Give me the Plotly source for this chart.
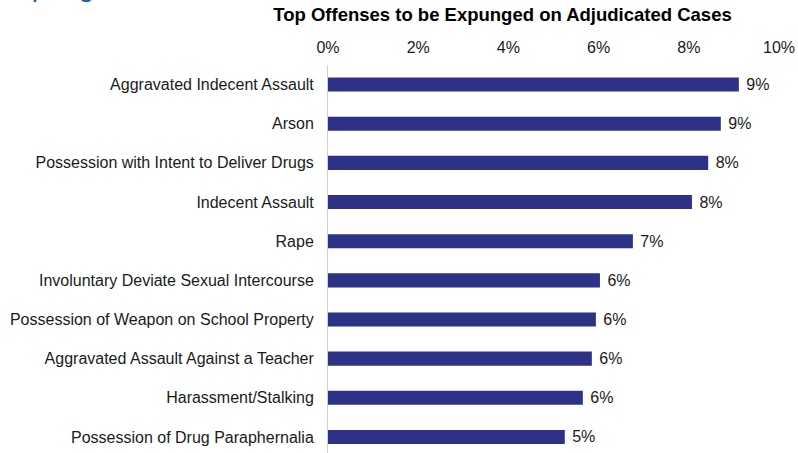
import plotly.graph_objects as go

# Offense categories, listed top to bottom as displayed
offenses = [
    "Aggravated Indecent Assault",
    "Arson",
    "Possession with Intent to Deliver Drugs",
    "Indecent Assault",
    "Rape",
    "Involuntary Deviate Sexual Intercourse",
    "Possession of Weapon on School Property",
    "Aggravated Assault Against a Teacher",
    "Harassment/Stalking",
    "Possession of Drug Paraphernalia",
]
# Share of adjudicated cases to be expunged
shares = [0.0911, 0.0871, 0.0843, 0.0807, 0.0676, 0.0603, 0.0594, 0.0585, 0.0565, 0.0525]

x_ticks = [0, 0.02, 0.04, 0.06, 0.08, 0.10]

FONT = "Liberation Sans, Arial, sans-serif"
BAR_COLOR = "#2E3188"
TEXT_COLOR = "#1a1a1a"

# plot bottom-up so the first offense sits at the top
y_cats = offenses[::-1]
x_vals = shares[::-1]

W, H = 798, 453
M_L, M_R, M_T, M_B = 328, 19, 65, 0
PLOT_W = W - M_L - M_R
PLOT_H = H - M_T - M_B

fig = go.Figure(
    go.Bar(
        x=x_vals,
        y=y_cats,
        orientation="h",
        marker=dict(color=BAR_COLOR, line=dict(width=0)),
        width=0.36,
        texttemplate=" %{x:.0%}",
        textposition="outside",
        constraintext="none",
        textfont=dict(family=FONT, size=16, color=TEXT_COLOR),
        cliponaxis=False,
        hoverinfo="skip",
    )
)

fig.update_layout(
    width=W,
    height=H,
    margin=dict(l=M_L, r=M_R, t=M_T, b=M_B),
    paper_bgcolor="white",
    plot_bgcolor="white",
    showlegend=False,
    font=dict(family=FONT, size=16, color=TEXT_COLOR),
    title=dict(
        text="<b>Top Offenses to be Expunged on Adjudicated Cases</b>",
        font=dict(family=FONT, size=18.5, color="#000000"),
        x=502.5 / W,
        xref="container",
        xanchor="center",
        y=1,
        yref="container",
        yanchor="top",
        pad=dict(t=8),
    ),
    xaxis=dict(
        side="top",
        range=[0, 0.10],
        tickvals=x_ticks,
        tickformat=".0%",
        showgrid=False,
        zeroline=False,
        showline=False,
        ticks="",
        ticklabelstandoff=8,
        tickfont=dict(family=FONT, size=16, color=TEXT_COLOR),
        fixedrange=True,
    ),
    yaxis=dict(
        type="category",
        categoryorder="array",
        categoryarray=y_cats,
        range=[-0.41, 9.5],
        showgrid=False,
        zeroline=False,
        showline=True,
        linecolor="#d0d0d0",
        linewidth=1,
        ticks="",
        ticklabelstandoff=10,
        tickfont=dict(family=FONT, size=16, color=TEXT_COLOR),
        fixedrange=True,
    ),
)

# slide heading above the chart, mostly running off the top edge
fig.add_annotation(
    text="Expungement",
    xref="paper", yref="paper",
    x=(-3 - M_L) / PLOT_W, xanchor="left",
    y=1 + (M_T - 4) / PLOT_H, yanchor="bottom",
    showarrow=False,
    font=dict(family=FONT, size=28, color="#1B5AAA"),
)

fig.write_html("out.html")
